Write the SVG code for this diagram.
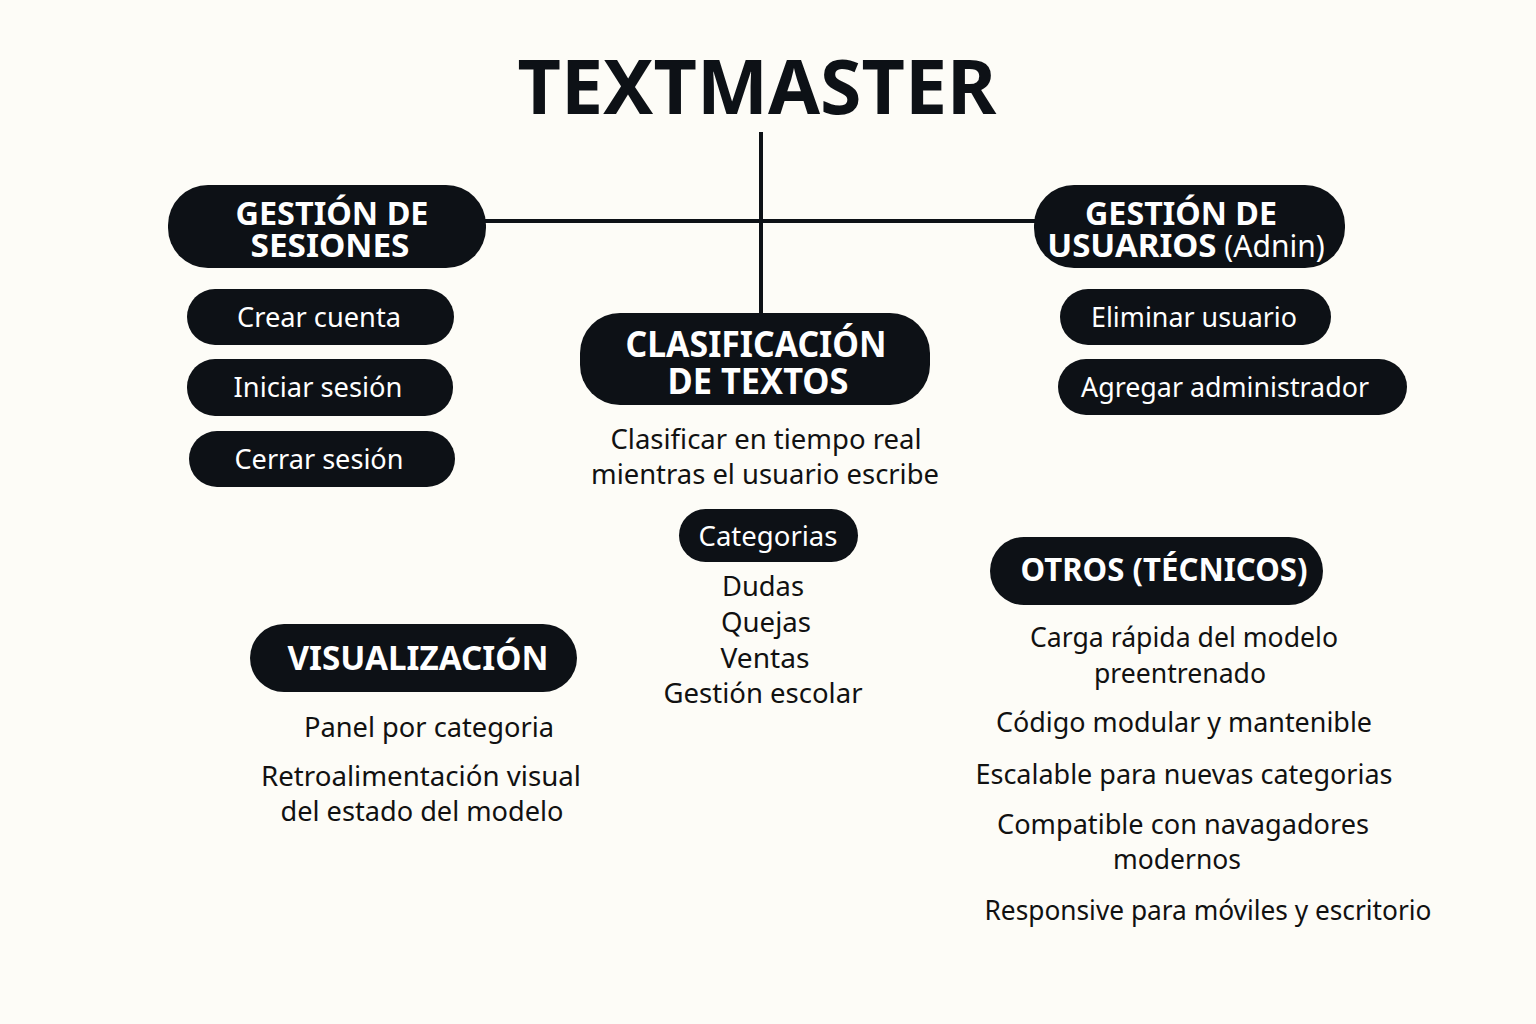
<svg xmlns="http://www.w3.org/2000/svg" width="1536" height="1024" viewBox="0 0 1536 1024">
<style>
.bg{fill:#fdfcf7}
.box{fill:#0d1116}
.hd{font-family:"Noto Sans","Open Sans",sans-serif;font-weight:700;fill:#ffffff;text-anchor:middle}
.pl{font-family:"Noto Sans","Open Sans",sans-serif;font-weight:400;fill:#ffffff;text-anchor:middle;font-size:28px}
.tx{font-family:"Noto Sans","Open Sans",sans-serif;font-weight:400;fill:#111111;text-anchor:middle;font-size:28px}
.ln{stroke:#0d1116;stroke-width:4;fill:none}
</style>
<rect class="bg" x="0" y="0" width="1536" height="1024"/>
<text id="title" x="757" y="114" font-family="Noto Sans, Open Sans, sans-serif" font-weight="700" font-size="76" fill="#0d1116" text-anchor="middle" textLength="479" lengthAdjust="spacingAndGlyphs">TEXTMASTER</text>
<g id="connectors">
<line class="ln" x1="761" y1="132" x2="761" y2="314"/>
<line class="ln" x1="484" y1="221" x2="1036" y2="221"/>
</g>
<g id="gestion-sesiones">
<rect class="box" x="168" y="185" width="318" height="83" rx="40"/>
<text class="hd" x="332" y="225" font-size="33" textLength="193" lengthAdjust="spacingAndGlyphs">GESTIÓN DE</text>
<text class="hd" x="330" y="257" font-size="33" textLength="159" lengthAdjust="spacingAndGlyphs">SESIONES</text>
</g>
<g id="crear-cuenta">
<rect class="box" x="187" y="289" width="267" height="56" rx="28"/>
<text class="pl" x="319" y="327" textLength="164" lengthAdjust="spacingAndGlyphs">Crear cuenta</text>
</g>
<g id="iniciar-sesion">
<rect class="box" x="187" y="359" width="266" height="57" rx="28"/>
<text class="pl" x="318" y="397" textLength="169" lengthAdjust="spacingAndGlyphs">Iniciar sesión</text>
</g>
<g id="cerrar-sesion">
<rect class="box" x="189" y="431" width="266" height="56" rx="28"/>
<text class="pl" x="319" y="469" textLength="169" lengthAdjust="spacingAndGlyphs">Cerrar sesión</text>
</g>
<g id="clasificacion">
<rect class="box" x="580" y="313" width="350" height="92" rx="40"/>
<text class="hd" x="756" y="357" font-size="35" textLength="261" lengthAdjust="spacingAndGlyphs">CLASIFICACIÓN</text>
<text class="hd" x="758" y="394" font-size="35" textLength="181" lengthAdjust="spacingAndGlyphs">DE TEXTOS</text>
</g>
<g id="clasificar-desc">
<text class="tx" x="766" y="449" textLength="311" lengthAdjust="spacingAndGlyphs">Clasificar en tiempo real</text>
<text class="tx" x="765" y="484" textLength="348" lengthAdjust="spacingAndGlyphs">mientras el usuario escribe</text>
</g>
<g id="categorias">
<rect class="box" x="679" y="509" width="179" height="53" rx="26.5"/>
<text class="pl" x="768" y="546" textLength="139" lengthAdjust="spacingAndGlyphs">Categorias</text>
</g>
<g id="categorias-lista">
<text class="tx" x="763" y="596" textLength="82" lengthAdjust="spacingAndGlyphs">Dudas</text>
<text class="tx" x="766" y="632" textLength="90" lengthAdjust="spacingAndGlyphs">Quejas</text>
<text class="tx" x="765" y="668" textLength="89" lengthAdjust="spacingAndGlyphs">Ventas</text>
<text class="tx" x="763" y="703" textLength="199" lengthAdjust="spacingAndGlyphs">Gestión escolar</text>
</g>
<g id="gestion-usuarios">
<rect class="box" x="1034" y="185" width="311" height="83" rx="40"/>
<text class="hd" x="1181" y="225" font-size="33" textLength="192" lengthAdjust="spacingAndGlyphs">GESTIÓN DE</text>
<text x="1186" y="257" text-anchor="middle" font-family="Noto Sans, Open Sans, sans-serif" fill="#ffffff"><tspan font-weight="700" font-size="33">USUARIOS</tspan><tspan font-weight="400" font-size="30"> (Adnin)</tspan></text>
</g>
<g id="eliminar-usuario">
<rect class="box" x="1060" y="289" width="271" height="56" rx="28"/>
<text class="pl" x="1194" y="327" textLength="206" lengthAdjust="spacingAndGlyphs">Eliminar usuario</text>
</g>
<g id="agregar-admin">
<rect class="box" x="1058" y="359" width="349" height="56" rx="28"/>
<text class="pl" x="1225" y="397" textLength="288" lengthAdjust="spacingAndGlyphs">Agregar administrador</text>
</g>
<g id="otros">
<rect class="box" x="990" y="537" width="333" height="68" rx="34"/>
<text class="hd" x="1164" y="581" font-size="32" textLength="287" lengthAdjust="spacingAndGlyphs">OTROS (TÉCNICOS)</text>
</g>
<g id="otros-lista">
<text class="tx" x="1184" y="647" textLength="308" lengthAdjust="spacingAndGlyphs">Carga rápida del modelo</text>
<text class="tx" x="1180" y="683" textLength="172" lengthAdjust="spacingAndGlyphs">preentrenado</text>
<text class="tx" x="1184" y="732" textLength="376" lengthAdjust="spacingAndGlyphs">Código modular y mantenible</text>
<text class="tx" x="1184" y="784" textLength="417" lengthAdjust="spacingAndGlyphs">Escalable para nuevas categorias</text>
<text class="tx" x="1183" y="834" textLength="372" lengthAdjust="spacingAndGlyphs">Compatible con navagadores</text>
<text class="tx" x="1177" y="869" textLength="128" lengthAdjust="spacingAndGlyphs">modernos</text>
<text class="tx" x="1208" y="920" textLength="447" lengthAdjust="spacingAndGlyphs">Responsive para móviles y escritorio</text>
</g>
<g id="visualizacion">
<rect class="box" x="250" y="624" width="327" height="68" rx="34"/>
<text class="hd" x="418" y="670" font-size="34" textLength="261" lengthAdjust="spacingAndGlyphs">VISUALIZACIÓN</text>
</g>
<g id="visualizacion-lista">
<text class="tx" x="429" y="737" textLength="250" lengthAdjust="spacingAndGlyphs">Panel por categoria</text>
<text class="tx" x="421" y="786" textLength="320" lengthAdjust="spacingAndGlyphs">Retroalimentación visual</text>
<text class="tx" x="422" y="821" textLength="283" lengthAdjust="spacingAndGlyphs">del estado del modelo</text>
</g>
</svg>
